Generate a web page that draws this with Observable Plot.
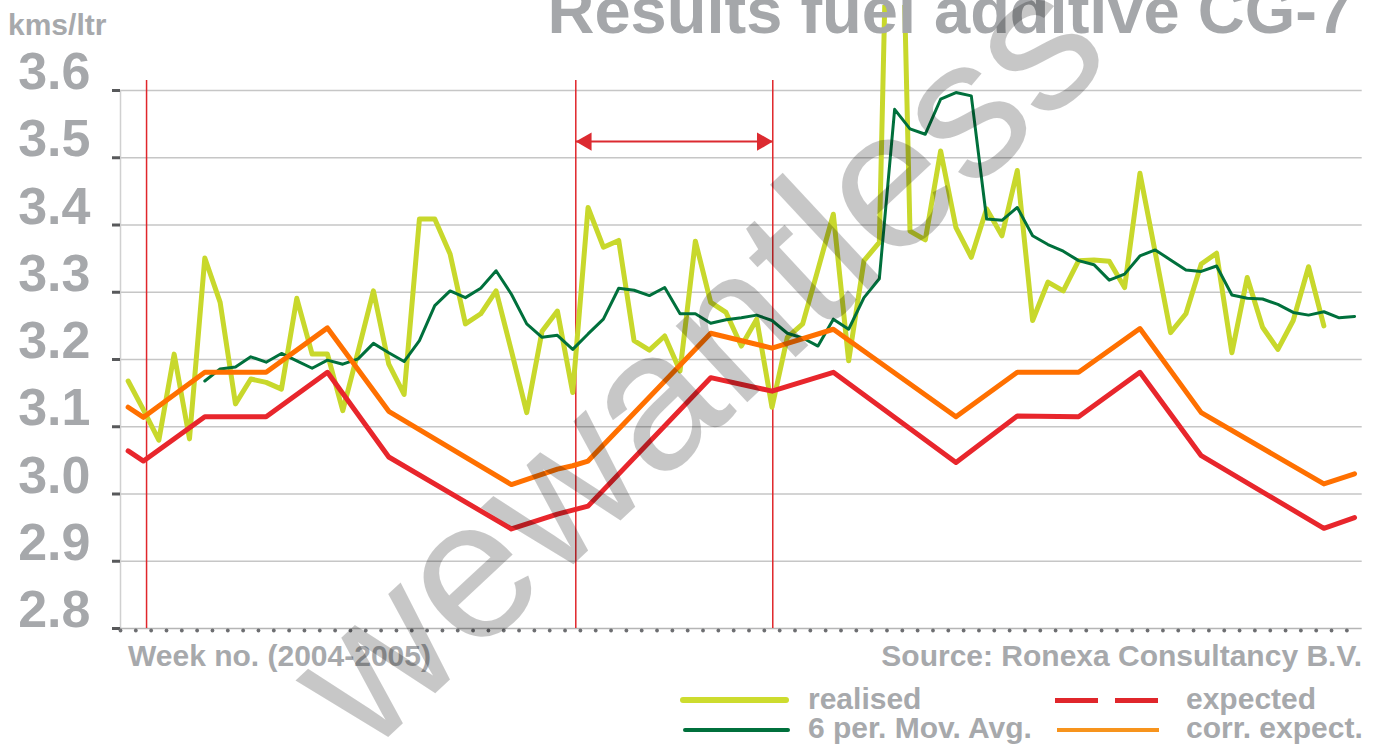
<!DOCTYPE html>
<html><head><meta charset="utf-8">
<script src="https://cdn.jsdelivr.net/npm/d3@7"></script>
<script src="https://cdn.jsdelivr.net/npm/@observablehq/plot@0.6"></script>
<style>
html,body{margin:0;padding:0;background:#fff;}
#wrap{position:relative;width:1381px;height:749px;overflow:hidden;font-family:"Liberation Sans",Arial,sans-serif;}
#chart{position:absolute;left:0;top:0;}
.t{position:absolute;white-space:nowrap;color:#a7a9ac;font-weight:bold;font-size:30px;line-height:24px;}
.sw{position:absolute;border-radius:3px;}
#title{position:absolute;right:28px;top:-22px;font-size:65px;line-height:65px;font-weight:bold;color:#a5a7aa;white-space:nowrap;}
#wm{position:absolute;left:695px;top:358px;transform:translate(-50%,-50%) rotate(-43deg);font-size:198px;line-height:198px;color:rgba(0,0,0,0.22);white-space:nowrap;font-weight:normal;pointer-events:none;}
</style></head><body>
<div id="wrap">
  <div id="chart"></div>
  <div id="title"></div>
  <div class="t" id="unit" style="left:8px;top:13px;"></div>
  <div class="t" id="xlab" style="left:128px;top:644px;"></div>
  <div class="t" id="src" style="right:19px;top:644px;"></div>
  <div class="sw" style="left:680px;top:697px;width:109px;height:6px;background:#cddc2f;"></div>
  <div class="sw" style="left:683px;top:728px;width:107px;height:4px;background:#00703c;"></div>
  <div class="sw" style="left:1055px;top:698px;width:43px;height:5px;border-radius:0;background:#e0262b;"></div>
  <div class="sw" style="left:1115px;top:698px;width:43px;height:5px;border-radius:0;background:#e0262b;"></div>
  <div class="sw" style="left:1057px;top:728px;width:102px;height:4px;border-radius:0;background:#f7941d;"></div>
  <div class="t" id="lg0" style="left:808px;top:687px;"></div>
  <div class="t" id="lg1" style="left:808px;top:716px;"></div>
  <div class="t" id="lg2" style="left:1186px;top:687px;"></div>
  <div class="t" id="lg3" style="left:1186px;top:716px;"></div>
  <div id="wm"></div>
</div>
<script>
// ---- data ----
const titleText = "Results fuel additive CG-7";
const unitText = "kms/ltr";
const xLabel = "Week no. (2004-2005)";
const sourceText = "Source: Ronexa Consultancy B.V.";
const seriesNames = ["realised", "6 per. Mov. Avg.", "expected", "corr. expect."];
const watermarkText = "wewantless";

const yTicks = [2.8, 2.9, 3.0, 3.1, 3.2, 3.3, 3.4, 3.5, 3.6];

// realised, weeks 0..78
const realised = [3.168,3.125,3.080,3.208,3.082,3.351,3.285,3.134,3.171,3.166,
  3.156,3.291,3.208,3.208,3.124,3.212,3.302,3.193,3.148,3.409,
  3.409,3.357,3.253,3.268,3.302,3.213,3.121,3.242,3.272,3.151,
  3.426,3.367,3.377,3.228,3.214,3.235,3.183,3.376,3.285,3.270,
  3.220,3.260,3.129,3.233,3.253,3.334,3.416,3.198,3.347,3.374,
  4.370,3.391,3.378,3.510,3.396,3.352,3.424,3.384,3.481,3.258,
  3.315,3.302,3.347,3.348,3.346,3.307,3.477,3.359,3.240,3.268,
  3.342,3.358,3.210,3.322,3.248,3.215,3.258,3.338,3.250];

// 6 period moving average, weeks 5..80
const maStartWeek = 5;
const movAvg = [3.168,3.186,3.189,3.204,3.196,3.209,3.198,3.187,3.199,3.193,
  3.201,3.224,3.210,3.197,3.228,3.280,3.302,3.292,3.306,3.332,
  3.297,3.253,3.233,3.236,3.215,3.238,3.260,3.306,3.303,3.295,
  3.307,3.268,3.268,3.254,3.259,3.262,3.266,3.258,3.239,3.232,
  3.220,3.260,3.245,3.292,3.320,3.572,3.543,3.535,3.587,3.597,
  3.592,3.409,3.407,3.426,3.384,3.371,3.361,3.347,3.341,3.318,
  3.327,3.354,3.363,3.348,3.333,3.331,3.339,3.296,3.291,3.290,
  3.282,3.270,3.266,3.271,3.262,3.264];

// expected & corrected expectation (vertex weeks)
const expWeeks = [0,1,5,9,13,17,25,28,29,30,38,42,46,54,58,62,66,70,78,80];
const expected = [3.064,3.049,3.115,3.115,3.181,3.055,2.948,2.970,2.976,2.982,3.173,3.153,3.181,3.047,3.116,3.115,3.181,3.057,2.949,2.965];
const corrExpect = [3.129,3.114,3.181,3.181,3.247,3.123,3.014,3.037,3.042,3.049,3.239,3.217,3.245,3.115,3.181,3.181,3.246,3.121,3.015,3.030];

// annotation: test period markers (weeks) and arrow level
const markerWeeks = [1.2, 29.2, 42.05];
const markerTop = 3.615;
const arrowLevel = 3.524;

const xTicks = d3.range(81).map(k => k - 0.5);

// ---- build ----
const realisedData = realised.map((v, i) => ({week: i, v}));
const maData = movAvg.map((v, i) => ({week: i + maStartWeek, v}));
const expData = expWeeks.map((w, i) => ({week: w, v: expected[i]}));
const corrData = expWeeks.map((w, i) => ({week: w, v: corrExpect[i]}));

const plot = Plot.plot({
  width: 1381, height: 749,
  marginLeft: 120, marginRight: 19.3, marginTop: 5, marginBottom: 121,
  x: {domain: [-0.5, 80.5], axis: null},
  y: {domain: [2.8, 3.7264], axis: null},
  style: {fontFamily: "Liberation Sans, Arial, sans-serif", background: "transparent", overflow: "visible"},
  marks: [
    Plot.ruleY(yTicks.filter(d => d > 2.8), {y: d => d, stroke: "#c6c6c6", strokeWidth: 1.5}),
    Plot.ruleX([-0.5], {y1: 2.8, y2: 3.6, stroke: "#d0d0d0", strokeWidth: 1.5}),
    Plot.ruleY([2.8], {stroke: "#b5b5b5", strokeWidth: 1.5}),
    Plot.axisY({ticks: yTicks, tickSize: 8, tickFormat: () => "", stroke: "#58595b", strokeWidth: 3, label: null}),
    Plot.text(yTicks, {y: d => d, frameAnchor: "left", text: d => d.toFixed(1), textAnchor: "end",
      dx: -30, dy: -18, fontSize: 52, fontWeight: "bold", fill: "#a6a8ab"}),
    Plot.dot(xTicks, {x: d => d, y: () => 2.8, r: 1.9, fill: "#6d6e71", dy: 2}),
    Plot.ruleX(markerWeeks, {x: d => d, y1: 2.8, y2: markerTop, stroke: "#e0262b", strokeWidth: 1.5}),
    Plot.ruleY([arrowLevel], {x1: markerWeeks[1], x2: markerWeeks[2], stroke: "#dc2a30", strokeWidth: 2}),
    Plot.dot([{x: markerWeeks[1], y: arrowLevel}], {x: "x", y: "y", symbol: "triangle", r: 6.8, rotate: -90, dx: 10.5, fill: "#dc2a30"}),
    Plot.dot([{x: markerWeeks[2], y: arrowLevel}], {x: "x", y: "y", symbol: "triangle", r: 6.8, rotate: 90, dx: -10.5, fill: "#dc2a30"}),
    Plot.line(realisedData, {x: "week", y: "v", stroke: "#c8d82c", strokeWidth: 5, clip: true}),
    Plot.line(maData, {x: "week", y: "v", stroke: "#00703c", strokeWidth: 3, clip: true}),
    Plot.line(expData, {x: "week", y: "v", stroke: "#e8262c", strokeWidth: 5}),
    Plot.line(corrData, {x: "week", y: "v", stroke: "#ff7000", strokeWidth: 5})
  ]
});
document.getElementById("chart").appendChild(plot);

document.getElementById("title").textContent = titleText;
document.getElementById("unit").textContent = unitText;
document.getElementById("xlab").textContent = xLabel;
document.getElementById("src").textContent = sourceText;
seriesNames.forEach((n, i) => document.getElementById("lg" + i).textContent = n);
document.getElementById("wm").textContent = watermarkText;
</script>
</body></html>
